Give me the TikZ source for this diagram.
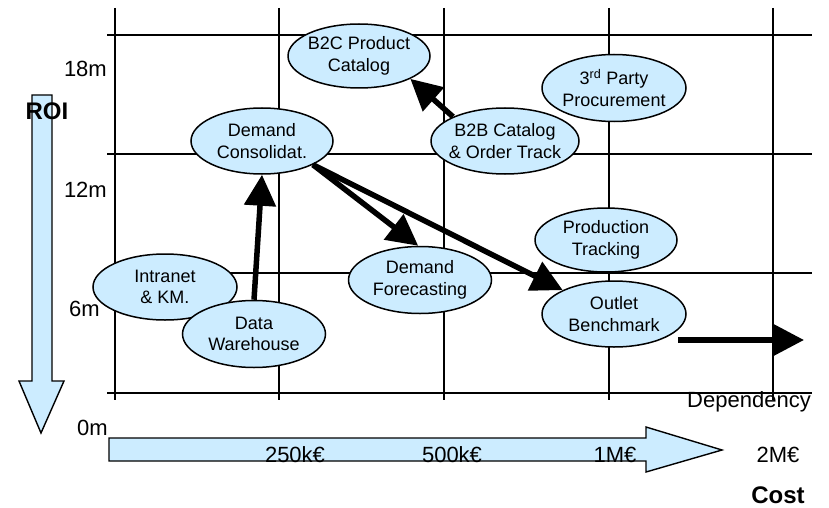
\documentclass[tikz,border=0pt]{standalone}
\usepackage{fontspec}
\setmainfont{Liberation Sans}
\usetikzlibrary{shapes.geometric,arrows.meta}
\definecolor{bubble}{RGB}{204,236,255}

\begin{document}
\begin{tikzpicture}[x=1pt,y=-1pt,
  gridline/.style={line width=1.6pt},
  project/.style={ellipse, draw, line width=1.5pt, fill=bubble, inner sep=0pt,
                  minimum width=143pt, minimum height=66pt},
  caption/.style={font=\fontsize{18}{21.6}\selectfont, align=center, inner sep=0pt},
  axislabel/.style={font=\fontsize{22}{26}\selectfont, inner sep=0pt},
  axistitle/.style={font=\bfseries\fontsize{24}{28}\selectfont, inner sep=0pt},
  link/.style={line width=5.5pt, -{Triangle[length=31pt,width=31pt]}},
  bigarrow/.style={draw, line width=1.4pt, fill=bubble}]

\useasboundingbox (0,0) rectangle (829,508);

% grid
\foreach \gx in {115,279,444,609,773}
  \draw[gridline] (\gx,8) -- (\gx,400);
\foreach \gy in {35,154,273,393}
  \draw[gridline] (107,\gy) -- (812,\gy);

% ROI axis (downward block arrow)
\draw[bigarrow] (32,95) -- (52,95) -- (52,381) -- (64,381) -- (41,433)
  -- (19,381) -- (32,381) -- cycle;
% cost axis (rightward block arrow)
\draw[bigarrow] (109,438) -- (646,438) -- (646,427) -- (722,450) -- (646,472)
  -- (646,461) -- (109,461) -- cycle;

% axis labels
\node[axislabel, anchor=base east] (r18) at (107,77) {18m};
\node[axislabel, anchor=base east] (r12) at (107,197) {12m};
\node[axislabel, anchor=base east] (r6) at (100,316) {6m};
\node[axislabel, anchor=base east] (r0) at (108,435) {0m};
\node[axistitle, anchor=base] (roi) at (47,120) {ROI};
\node[axislabel, anchor=base] (c250) at (295,462) {250k€};
\node[axislabel, anchor=base] (c500) at (452,462) {500k€};
\node[axislabel, anchor=base] (c1m) at (615,462) {1M€};
\node[axislabel, anchor=base] (c2m) at (778,462) {2M€};
\node[axistitle, anchor=base] (cost) at (778,503) {Cost};
\node[axislabel, anchor=base] (dep) at (749,407) {Dependency};

% projects
\node[project, minimum width=142pt, minimum height=64pt] (b2c) at (359,56) {};
\node[caption] (b2ct) at (b2c) {B2C Product\\Catalog};
\node[project, minimum width=142pt] (dc) at (262,141) {};
\node[caption] (dct) at (dc) {Demand\\Consolidat.};
\node[project, minimum width=144pt, minimum height=67pt] (tpp) at (614,88) {};
\node[caption] (tppt) at (tpp) {3\textsuperscript{rd} Party\\Procurement};
\node[project, minimum width=148pt] (b2b) at (505,141) {};
\node[caption] (b2bt) at (b2b) {B2B Catalog\\\& Order Track};
\node[project, minimum width=142pt, minimum height=64pt] (pt) at (606,240) {};
\node[caption] (ptt) at (pt) {Production\\Tracking};
\node[project, minimum width=144pt] (km) at (165,287) {};
\node[caption] (kmt) at (km) {Intranet\\\& KM.};
\node[project, minimum height=67pt] (dw) at (254,334) {};
\node[caption] (dwt) at (dw) {Data\\Warehouse};
\node[project, minimum height=67pt] (df) at (420,280) {};
\node[caption] (dft) at (df) {Demand\\Forecasting};
\node[project, minimum width=144pt] (ob) at (614,314) {};
\node[caption] (obt) at (ob) {Outlet\\Benchmark};

% dependencies
\draw[link] (dw.north) -- (dc.south);
\draw[link] (b2b.155.6) -- (b2c.-24.3);
\draw[link] (dc.-25.2) -- (df.93);
\draw[link] (dc.-25.2) -- (ob.155);
\coordinate (deptail) at (678,340);
\coordinate (dephead) at (804,340);
\draw[link] (deptail) -- (dephead);
\end{tikzpicture}
\end{document}
